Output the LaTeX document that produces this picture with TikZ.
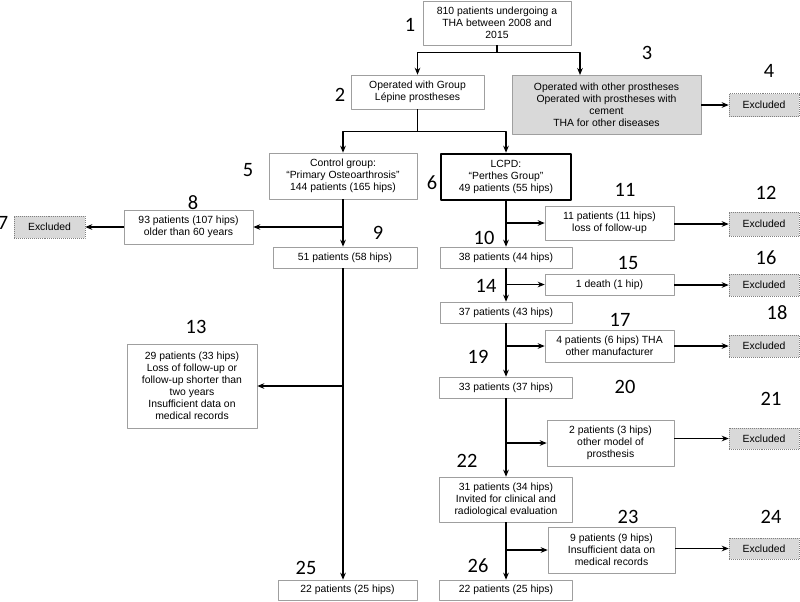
\documentclass[tikz,border=0pt]{standalone}
\usepackage{fontspec}
\setmainfont{Liberation Sans}
\newfontfamily\numfont{Carlito}
\usetikzlibrary{arrows.meta}
\tikzset{
  box/.style={draw=gray!75, fill=white, align=center, inner sep=1pt,
    font=\fontsize{7.4}{8.6}\selectfont},
  greybox/.style={box, fill=gray!30},
  exclbox/.style={box, draw=gray, densely dotted, fill=gray!30},
  mainbox/.style={box, draw=black, line width=1.8pt},
  boxsize/.style 2 args={minimum width=#1*0.025cm, minimum height=#2*0.025cm},
  num/.style={font=\numfont\fontsize{14.5}{16}\selectfont, inner sep=0pt},
  link/.style={line width=0.8pt},
  flow/.style={link, -{Stealth[length=5pt,width=4pt]}},
}
\begin{document}
\begin{tikzpicture}[x=0.025cm,y=-0.025cm,line join=round]
  \useasboundingbox (0,0) rectangle (800,601);
  % top of the chart
  \node[box,boxsize={148}{44}] (n1) at (497,23) {810 patients undergoing a\\THA between 2008 and\\2015};
  \node[box,boxsize={133}{34}] (n2) at (417.5,92) {Operated with Group\\Lépine prostheses};
  \node[greybox,boxsize={189}{59}] (n3) at (606.5,104.5) {Operated with other prostheses\\Operated with prostheses with\\cement\\THA for other diseases};
  \node[exclbox,boxsize={70}{23}] (x4) at (764,105) {Excluded};
  \coordinate (t3) at (580,75);
  % control group
  \node[box,boxsize={148}{46}] (n5) at (343,176) {Control group:\\“Primary Osteoarthrosis”\\144 patients (165 hips)};
  \node[box,boxsize={129}{34}] (n8) at (188.5,227) {93 patients (107 hips)\\older than 60 years};
  \node[exclbox,boxsize={71}{22}] (x7) at (49.5,227) {Excluded};
  \node[box,boxsize={144}{21}] (n9) at (345,257.5) {51 patients (58 hips)};
  \node[box,boxsize={130}{84}] (n13) at (192,386) {29 patients (33 hips)\\Loss of follow-up or\\follow-up shorter than\\two years\\Insufficient data on\\medical records};
  \node[box,boxsize={139}{20}] (n25) at (347.5,590) {22 patients (25 hips)};
  % perthes group
  \node[mainbox,boxsize={130}{46}] (n6) at (506,177) {LCPD:\\“Perthes Group”\\49 patients (55 hips)};
  \node[box,boxsize={129}{34}] (n11) at (609.5,223) {11 patients (11 hips)\\loss of follow-up};
  \node[exclbox,boxsize={70}{24}] (x12) at (764,224) {Excluded};
  \node[box,boxsize={132}{21}] (n10) at (506,257.5) {38 patients (44 hips)};
  \node[box,boxsize={129}{21}] (n15) at (609.5,284.5) {1 death (1 hip)};
  \node[exclbox,boxsize={70}{22}] (x16) at (764,285) {Excluded};
  \node[box,boxsize={132}{21}] (n14) at (506,312.5) {37 patients (43 hips)};
  \node[box,boxsize={129}{32}] (n17) at (609.5,346) {4 patients (6 hips) THA\\other manufacturer};
  \node[exclbox,boxsize={70}{22}] (x18) at (764,346) {Excluded};
  \node[box,boxsize={133}{21}] (n19) at (506,387.5) {33 patients (37 hips)};
  \node[box,boxsize={127}{46}] (n20) at (610.5,443) {2 patients (3 hips)\\other model of\\prosthesis};
  \node[exclbox,boxsize={70}{21}] (x21) at (764,438.5) {Excluded};
  \node[box,boxsize={133}{45}] (n22) at (506,499.5) {31 patients (34 hips)\\Invited for clinical and\\radiological evaluation};
  \node[box,boxsize={127}{46}] (n23) at (611.5,550) {9 patients (9 hips)\\Insufficient data on\\medical records};
  \node[exclbox,boxsize={70}{21}] (x24) at (764,548.5) {Excluded};
  \node[box,boxsize={133}{20}] (n26) at (506,590) {22 patients (25 hips)};
  % step numbers
  \node[num] (l1) at (410,25) {1};
  \node[num] (l2) at (340,95) {2};
  \node[num] (l3) at (647,53) {3};
  \node[num] (l4) at (769,71) {4};
  \node[num] (l5) at (248,170) {5};
  \node[num] (l6) at (432,183) {6};
  \node[num] (l7) at (3,223) {7};
  \node[num] (l8) at (193,203) {8};
  \node[num] (l9) at (378,233) {9};
  \node[num] (l10) at (484,238) {10};
  \node[num] (l11) at (625,190) {11};
  \node[num] (l12) at (766,193) {12};
  \node[num] (l13) at (196,327) {13};
  \node[num] (l14) at (486,286) {14};
  \node[num] (l15) at (628,263) {15};
  \node[num] (l16) at (766,258) {16};
  \node[num] (l17) at (620,320) {17};
  \node[num] (l18) at (777,313) {18};
  \node[num] (l19) at (478,357) {19};
  \node[num] (l20) at (625,387) {20};
  \node[num] (l21) at (771,399) {21};
  \node[num] (l22) at (467,461) {22};
  \node[num] (l23) at (628,517) {23};
  \node[num] (l24) at (771,517) {24};
  \node[num] (l25) at (306,568) {25};
  \node[num] (l26) at (478,566) {26};
  % connectors
  \draw[link] (n1.south) -- ++(0,7) coordinate (s1);
  \draw[flow] (s1) -| (n2.north);
  \draw[flow] (s1) -| (t3);
  \draw[flow] (x4.west -| n3.east) -- (x4.west);
  \draw[link] (n2.south) -- ++(0,22) coordinate (s2);
  \draw[flow] (s2) -| (n5.north);
  \draw[flow] (s2) -| (n6.north);
  \draw[flow] (n5.south) -- (n5.south |- n9.north);
  \draw[flow] (n5.south |- n8.east) -- (n8.east);
  \draw[flow] (n8.west) -- (x7.east);
  \draw[flow] (n5.south |- n9.south) -- (n5.south |- n25.north);
  \draw[flow] (n5.south |- n13.east) -- (n13.east);
  \draw[flow] (n6.south) -- (n10.north);
  \draw[flow] (n6.south |- n11.west) -- (n11.west);
  \draw[flow] (x12.west -| n11.east) -- (x12.west);
  \draw[flow] (n10.south) -- (n14.north);
  \draw[flow] (n10.south |- n15.west) -- (n15.west);
  \draw[flow] (x16.west -| n15.east) -- (x16.west);
  \draw[flow] (n14.south) -- (n19.north);
  \draw[flow] (n14.south |- n17.west) -- (n17.west);
  \draw[flow] (x18.west -| n17.east) -- (x18.west);
  \draw[flow] (n19.south) -- (n22.north);
  \draw[flow] (n19.south |- n20.west) -- (n20.west);
  \draw[flow] (x21.west -| n20.east) -- (x21.west);
  \draw[flow] (n22.south) -- (n26.north);
  \draw[flow] (n22.south |- n23.west) -- (n23.west);
  \draw[flow] (x24.west -| n23.east) -- (x24.west);
\end{tikzpicture}
\end{document}
